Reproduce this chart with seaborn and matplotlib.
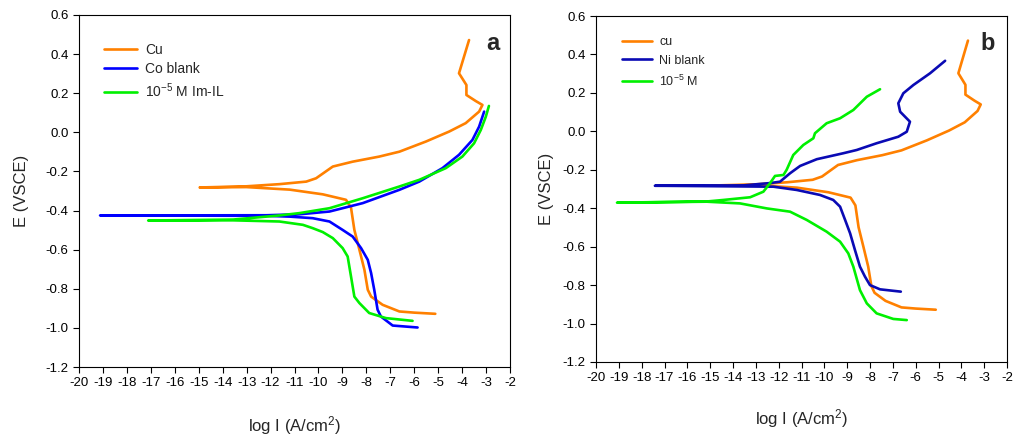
import matplotlib
matplotlib.use("Agg")
import matplotlib.pyplot as plt
import seaborn as sns
import pandas as pd

# ---------------- Cu curve (both panels) : (log I, E) ----------------
cu_logi = [-5.12, -6.0, -6.62, -7.32, -7.80, -7.94, -8.08, -8.29, -8.50, -8.64, -8.85,
           -9.82, -11.20, -13.01, -14.96, -13.01, -11.63, -10.51, -10.10, -9.75,
           -9.40, -8.57, -7.46, -6.62, -5.51, -4.54, -3.85, -3.29, -3.15, -3.43, -3.82,
           -3.82, -4.13, -3.71]
cu_e = [-0.928, -0.922, -0.916, -0.882, -0.840, -0.805, -0.703, -0.600, -0.499, -0.385,
        -0.345, -0.317, -0.293, -0.280, -0.282, -0.276, -0.265, -0.252, -0.235,
        -0.205, -0.175, -0.150, -0.124, -0.099, -0.047, 0.004, 0.047, 0.106, 0.140,
        0.160, 0.191, 0.242, 0.302, 0.472]

# ---------------- Panel a: Co blank and 10^-5 M Im-IL ----------------
co_logi = [-5.86, -6.90, -7.39, -7.53, -7.67, -7.80, -7.94, -8.22, -8.57, -8.99, -9.54,
           -10.24, -11.20, -12.17, -19.12, -12.17, -11.63, -10.79, -9.54, -8.15, -6.62,
           -5.79, -4.82, -4.13, -3.57, -3.29, -3.08]
co_e = [-0.998, -0.988, -0.942, -0.907, -0.805, -0.720, -0.652, -0.592, -0.533, -0.499,
        -0.456, -0.439, -0.431, -0.427, -0.425, -0.424, -0.422, -0.419, -0.405, -0.362,
        -0.294, -0.252, -0.183, -0.115, -0.039, 0.029, 0.106]

imil_logi = [-6.07, -7.18, -7.88, -8.29, -8.50, -8.64, -8.78, -8.99, -9.40, -9.82, -10.24,
             -10.65, -11.63, -13.56, -17.11, -13.56, -11.63, -10.79, -9.54, -8.15, -6.62,
             -5.79, -4.68, -3.99, -3.50, -3.22, -3.01, -2.88]
imil_e = [-0.964, -0.950, -0.924, -0.873, -0.840, -0.737, -0.635, -0.592, -0.541, -0.510,
          -0.490, -0.473, -0.456, -0.450, -0.451, -0.446, -0.425, -0.413, -0.388, -0.337,
          -0.277, -0.243, -0.183, -0.124, -0.056, 0.012, 0.080, 0.135]

# ---------------- Panel b: Ni blank and 10^-5 M ----------------
ni_logi = [-6.65, -7.56, -8.00, -8.22, -8.44, -8.66, -8.87, -9.09, -9.31, -9.61, -10.19,
           -11.21, -12.23, -17.42, -13.53, -12.36, -11.94, -11.50, -11.06, -10.33, -9.17,
           -8.58, -7.71, -6.76, -6.39, -6.25, -6.68, -6.76, -6.54, -6.10, -5.37, -4.71]
ni_e = [-0.834, -0.822, -0.800, -0.756, -0.704, -0.617, -0.531, -0.461, -0.392, -0.357,
        -0.331, -0.305, -0.288, -0.283, -0.281, -0.269, -0.262, -0.218, -0.180, -0.145,
        -0.114, -0.097, -0.062, -0.028, -0.002, 0.050, 0.102, 0.146, 0.198, 0.241,
        0.302, 0.367]

m5_logi = [-6.39, -6.98, -7.71, -8.14, -8.44, -8.73, -8.95, -9.31, -9.90, -10.77, -11.50,
           -12.52, -13.69, -15.15, -19.08, -15.15, -14.42, -13.25, -12.67, -12.38, -12.16,
           -11.79, -11.65, -11.36, -10.92, -10.48, -10.41, -9.90, -9.31, -8.73, -8.14,
           -7.56]
m5_e = [-0.982, -0.976, -0.947, -0.895, -0.826, -0.704, -0.635, -0.574, -0.522, -0.461,
        -0.418, -0.401, -0.375, -0.366, -0.371, -0.365, -0.357, -0.343, -0.314, -0.270,
        -0.232, -0.227, -0.200, -0.123, -0.071, -0.036, -0.010, 0.042, 0.068, 0.111,
        0.180, 0.219]

x_ticks = list(range(-20, -1))
y_ticks = [-1.2, -1.0, -0.8, -0.6, -0.4, -0.2, 0.0, 0.2, 0.4, 0.6]

sns.set_style("ticks")
plt.rcParams['font.family'] = ['Liberation Sans', 'DejaVu Sans']
plt.rcParams['mathtext.fontset'] = 'custom'
plt.rcParams['mathtext.rm'] = 'Liberation Sans'
plt.rcParams['mathtext.it'] = 'Liberation Sans'

fig = plt.figure(figsize=(10.17, 4.41), dpi=100)
W, H = 1017, 441
axa = fig.add_axes([79 / W, 1 - 367 / H, (510 - 79) / W, (367 - 15) / H])
axb = fig.add_axes([596 / W, 1 - 362 / H, (1007 - 596) / W, (362 - 16) / H])

ORANGE = "#FF8000"
GREEN = "#00F000"


def draw(ax, series, letter, legfs, legpos, ylpad, xlpad, letx):
    for xs, ys, lab, col in series:
        df = pd.DataFrame({"x": xs, "y": ys})
        sns.lineplot(data=df, x="x", y="y", sort=False, estimator=None, ax=ax,
                     color=col, lw=1.9, label=lab)
    ax.set_xlim(-20, -2)
    ax.set_ylim(-1.2, 0.6)
    ax.set_xticks(x_ticks)
    ax.set_xticklabels([str(t) for t in x_ticks])
    ax.set_yticks(y_ticks)
    ax.set_yticklabels([f"{t:.1f}" for t in y_ticks])
    ax.tick_params(axis="both", labelsize=9.5, direction="out", length=4, width=0.8,
                   colors="black")
    for s in ax.spines.values():
        s.set_visible(True)
        s.set_color("black")
        s.set_linewidth(0.8)
    ax.set_xlabel("log I (A/cm$^{2}$)", fontsize=12, labelpad=xlpad)
    ax.set_ylabel("E (VSCE)", fontsize=12, labelpad=ylpad)
    leg = ax.legend(loc="upper left", bbox_to_anchor=legpos, frameon=False,
                    fontsize=legfs, handlelength=2.4, handletextpad=0.6,
                    labelspacing=0.35 if legfs >= 10 else 0.55)
    for ln in leg.get_lines():
        ln.set_linewidth(1.9)
    ax.text(letx, 0.92, letter, transform=ax.transAxes, ha="right", va="center",
            fontsize=17, fontweight="bold")


draw(axa, [(cu_logi, cu_e, "Cu", ORANGE),
           (co_logi, co_e, "Co blank", "#0000FF"),
           (imil_logi, imil_e, "10$^{-5}$ M Im-IL", GREEN)], "a",
     10, (0.028, 0.955), 12, 18, 0.975)
draw(axb, [(cu_logi, cu_e, "cu", ORANGE),
           (ni_logi, ni_e, "Ni blank", "#0A0AB4"),
           (m5_logi, m5_e, "10$^{-5}$ M", GREEN)], "b",
     9, (0.035, 0.975), 6, 16, 0.971)

fig.savefig("out.png", dpi=100)
